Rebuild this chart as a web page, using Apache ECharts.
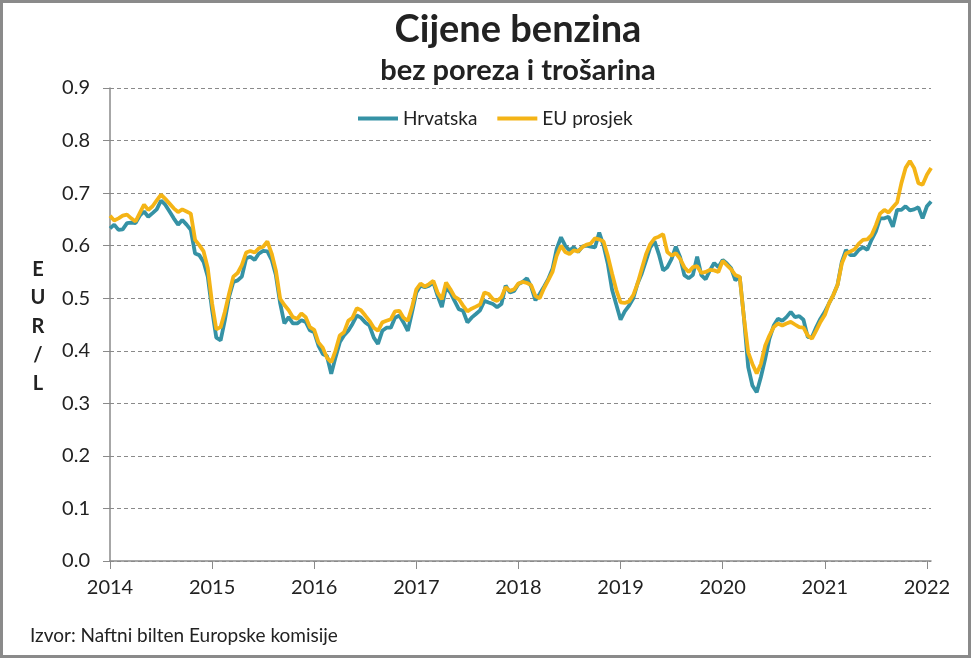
<!DOCTYPE html>
<html>
<head>
<meta charset="utf-8">
<script src="https://cdn.jsdelivr.net/npm/echarts@6/dist/echarts.min.js"></script>
<style>
    html, body { margin: 0; padding: 0; background: #fff; }
    #chart { width: 971px; height: 658px; }
</style>
</head>
<body>
<div id="chart"></div>
<script>
// x axis tick labels (years)
var yearTicks = [2014, 2015, 2016, 2017, 2018, 2019, 2020, 2021, 2022];

// semi-monthly readings (1st and 16th of each month), EUR/L
var hrvatska2014 = [0.633, 0.640, 0.630, 0.631, 0.643, 0.644, 0.643, 0.657, 0.665, 0.655, 0.662, 0.669, 0.686, 0.678, 0.665, 0.652, 0.640, 0.649, 0.640, 0.630, 0.585, 0.582, 0.569, 0.541];
var hrvatska2015 = [0.477, 0.425, 0.420, 0.458, 0.503, 0.531, 0.534, 0.541, 0.576, 0.579, 0.573, 0.585, 0.590, 0.589, 0.573, 0.544, 0.490, 0.452, 0.464, 0.452, 0.452, 0.458, 0.455, 0.439];
var hrvatska2016 = [0.435, 0.410, 0.394, 0.390, 0.356, 0.387, 0.416, 0.429, 0.438, 0.451, 0.467, 0.463, 0.454, 0.448, 0.425, 0.413, 0.438, 0.444, 0.444, 0.463, 0.467, 0.454, 0.438, 0.473];
var hrvatska2017 = [0.511, 0.524, 0.521, 0.524, 0.530, 0.505, 0.483, 0.521, 0.511, 0.495, 0.479, 0.476, 0.454, 0.463, 0.470, 0.477, 0.495, 0.492, 0.489, 0.483, 0.489, 0.524, 0.511, 0.514];
var hrvatska2018 = [0.527, 0.531, 0.538, 0.522, 0.496, 0.508, 0.522, 0.536, 0.556, 0.594, 0.616, 0.600, 0.591, 0.597, 0.588, 0.598, 0.600, 0.598, 0.597, 0.625, 0.600, 0.566, 0.516, 0.488];
var hrvatska2019 = [0.459, 0.475, 0.486, 0.500, 0.528, 0.547, 0.572, 0.597, 0.608, 0.584, 0.553, 0.559, 0.575, 0.598, 0.578, 0.544, 0.538, 0.544, 0.579, 0.544, 0.536, 0.553, 0.567, 0.559];
var hrvatska2020 = [0.573, 0.566, 0.557, 0.534, 0.541, 0.464, 0.369, 0.334, 0.321, 0.350, 0.385, 0.423, 0.448, 0.461, 0.457, 0.464, 0.474, 0.464, 0.466, 0.459, 0.426, 0.426, 0.445, 0.461];
var hrvatska2021 = [0.474, 0.490, 0.506, 0.525, 0.569, 0.592, 0.582, 0.582, 0.592, 0.597, 0.592, 0.611, 0.627, 0.652, 0.652, 0.655, 0.636, 0.668, 0.668, 0.675, 0.667, 0.669, 0.673, 0.652];
var hrvatska2022 = [0.675, 0.684];

var eu2014 = [0.657, 0.648, 0.652, 0.657, 0.659, 0.652, 0.646, 0.662, 0.678, 0.668, 0.675, 0.686, 0.697, 0.689, 0.680, 0.671, 0.664, 0.669, 0.665, 0.661, 0.611, 0.601, 0.589, 0.557];
var eu2015 = [0.490, 0.441, 0.445, 0.474, 0.509, 0.541, 0.548, 0.563, 0.587, 0.590, 0.587, 0.595, 0.598, 0.608, 0.585, 0.553, 0.499, 0.487, 0.477, 0.464, 0.461, 0.471, 0.464, 0.445];
var eu2016 = [0.440, 0.416, 0.406, 0.387, 0.378, 0.400, 0.429, 0.435, 0.457, 0.463, 0.481, 0.477, 0.467, 0.457, 0.444, 0.438, 0.454, 0.457, 0.460, 0.475, 0.476, 0.463, 0.457, 0.483];
var eu2017 = [0.517, 0.528, 0.522, 0.527, 0.533, 0.511, 0.498, 0.530, 0.517, 0.503, 0.498, 0.486, 0.475, 0.480, 0.484, 0.488, 0.511, 0.508, 0.498, 0.495, 0.502, 0.521, 0.514, 0.517];
var eu2018 = [0.528, 0.531, 0.529, 0.525, 0.504, 0.500, 0.519, 0.534, 0.550, 0.581, 0.600, 0.588, 0.584, 0.591, 0.589, 0.597, 0.602, 0.604, 0.614, 0.612, 0.608, 0.581, 0.547, 0.516];
var eu2019 = [0.492, 0.491, 0.494, 0.506, 0.528, 0.556, 0.584, 0.603, 0.614, 0.617, 0.622, 0.588, 0.581, 0.586, 0.575, 0.559, 0.550, 0.559, 0.561, 0.548, 0.550, 0.554, 0.553, 0.550];
var eu2020 = [0.571, 0.563, 0.555, 0.544, 0.541, 0.464, 0.397, 0.375, 0.357, 0.375, 0.410, 0.429, 0.445, 0.452, 0.448, 0.452, 0.455, 0.450, 0.445, 0.444, 0.429, 0.423, 0.439, 0.455];
var eu2021 = [0.468, 0.490, 0.506, 0.525, 0.566, 0.585, 0.589, 0.593, 0.604, 0.611, 0.612, 0.620, 0.639, 0.661, 0.668, 0.663, 0.673, 0.682, 0.719, 0.748, 0.761, 0.748, 0.719, 0.716];
var eu2022 = [0.735, 0.748];

// turn a year's readings into [decimal year, value] pairs
function toPoints(year, values) {
    return values.map(function (v, i) {
        var month = Math.floor(i / 2);
        var day = i % 2 ? 15 : 0;
        return [year + (month + day / 30.5) / 12, v];
    });
}

var hrData = [].concat(
    toPoints(2014, hrvatska2014), toPoints(2015, hrvatska2015), toPoints(2016, hrvatska2016),
    toPoints(2017, hrvatska2017), toPoints(2018, hrvatska2018), toPoints(2019, hrvatska2019),
    toPoints(2020, hrvatska2020), toPoints(2021, hrvatska2021), toPoints(2022, hrvatska2022)
);
var euData = [].concat(
    toPoints(2014, eu2014), toPoints(2015, eu2015), toPoints(2016, eu2016),
    toPoints(2017, eu2017), toPoints(2018, eu2018), toPoints(2019, eu2019),
    toPoints(2020, eu2020), toPoints(2021, eu2021), toPoints(2022, eu2022)
);

var font = 'Lato, "Open Sans", sans-serif';
var textColor = '#222';

var myChart = echarts.init(document.getElementById('chart'));

var option = {
    animation: false,
    backgroundColor: '#fff',
    grid: {
        left: 110,
        right: 40,
        top: 88,
        bottom: 97
    },
    graphic: [
        {
            type: 'rect',
            shape: {x: 1.5, y: 1.5, width: 968, height: 655},
            style: {fill: 'none', stroke: '#8a8a8a', lineWidth: 3},
            silent: true
        },
        {
            type: 'text',
            x: 518,
            y: 11,
            style: {
                text: 'Cijene benzina',
                fill: textColor,
                font: 'bold 38px ' + font,
                textAlign: 'center'
            }
        },
        {
            type: 'text',
            x: 518,
            y: 56,
            style: {
                text: 'bez poreza i trošarina',
                fill: textColor,
                font: 'bold 29px ' + font,
                textAlign: 'center'
            }
        },
        {
            type: 'text',
            x: 38,
            y: 255,
            style: {
                text: 'E\nU\nR\n/\nL',
                fill: textColor,
                font: 'bold 20px ' + font,
                textAlign: 'center',
                lineHeight: 28.6
            }
        },
        {
            type: 'text',
            x: 30,
            y: 626,
            style: {
                text: 'Izvor: Naftni bilten Europske komisije',
                fill: textColor,
                font: '19px ' + font
            }
        }
    ],
    legend: {
        top: 104,
        left: 353,
        icon: 'rect',
        itemWidth: 40,
        itemHeight: 4,
        itemGap: 20,
        textStyle: {
            fontSize: 19,
            fontFamily: font,
            color: textColor
        },
        data: ['Hrvatska', 'EU prosjek']
    },
    xAxis: {
        type: 'value',
        min: 2014,
        max: 2022.04,
        axisLine: {show: true, lineStyle: {color: '#8a8a8a', width: 1.5}},
        axisTick: {
            show: true,
            length: 8,
            customValues: yearTicks,
            lineStyle: {color: '#8a8a8a'}
        },
        axisLabel: {
            customValues: yearTicks,
            margin: 17,
            fontSize: 20,
            fontFamily: font,
            color: textColor,
            formatter: function (v) { return String(Math.round(v)); }
        },
        splitLine: {show: false}
    },
    yAxis: {
        type: 'value',
        min: 0,
        max: 0.9,
        interval: 0.1,
        axisLine: {show: true, lineStyle: {color: '#8a8a8a', width: 1.5}},
        axisTick: {show: true, length: 7, lineStyle: {color: '#8a8a8a'}},
        axisLabel: {
            margin: 20,
            fontSize: 20,
            fontFamily: font,
            color: textColor,
            formatter: function (v) { return v.toFixed(1); }
        },
        splitLine: {
            show: true,
            lineStyle: {color: '#8a8a8a', type: [4, 3], width: 1}
        }
    },
    series: [
        {
            name: 'Hrvatska',
            type: 'line',
            data: hrData,
            showSymbol: false,
            symbol: 'none',
            color: '#3592a5',
            lineStyle: {width: 3.8, color: '#3592a5'}
        },
        {
            name: 'EU prosjek',
            type: 'line',
            data: euData,
            showSymbol: false,
            symbol: 'none',
            color: '#f4b416',
            lineStyle: {width: 3.8, color: '#f4b416'}
        }
    ]
};

myChart.setOption(option);
</script>
</body>
</html>
